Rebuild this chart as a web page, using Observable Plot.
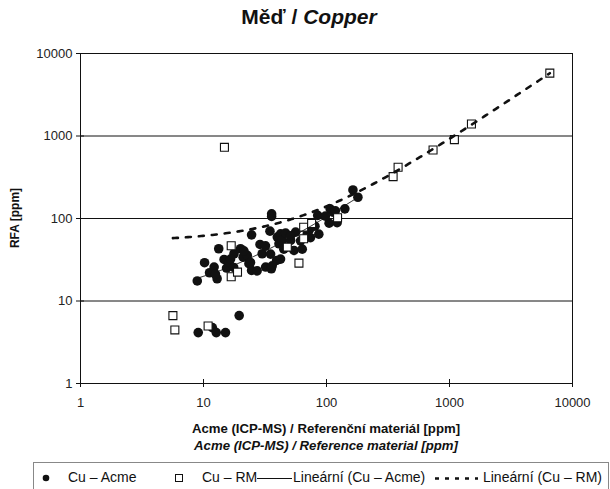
<!DOCTYPE html>
<html>
<head>
<meta charset="utf-8">
<script src="https://cdn.jsdelivr.net/npm/d3@7"></script>
<script src="https://cdn.jsdelivr.net/npm/@observablehq/plot@0.6"></script>
<style>
  html, body { margin: 0; padding: 0; background: #fff; }
  #wrap { position: relative; width: 610px; height: 489px; overflow: hidden; font-family: "Liberation Sans", Arial, sans-serif; color: #111; }
  #chart { position: absolute; left: 0; top: 0; }
  .abs { position: absolute; white-space: nowrap; }
  #title { top: 5px; left: 0; width: 618px; text-align: center; font-weight: bold; font-size: 21px; }
  #ylab { left: 15px; top: 218px; transform: translate(-50%, -50%) rotate(-90deg); font-weight: bold; font-size: 12px; }
  .xlab { left: 0; width: 652px; text-align: center; font-weight: bold; font-size: 13.2px; }
  #legend { left: 33px; top: 462px; width: 576px; height: 40px; border: 1px solid #888; box-sizing: border-box; font-size: 14px; }
  #legend .it { position: absolute; top: 6px; }
  #legend svg { position: absolute; top: 0; }
</style>
</head>
<body>
<div id="wrap">
  <div id="chart"></div>
  <div id="title" class="abs">Měď / <i>Copper</i></div>
  <div id="ylab" class="abs">RFA [ppm]</div>
  <div class="abs xlab" style="top:421px">Acme (ICP-MS) / Referenční materiál [ppm]</div>
  <div class="abs xlab" style="top:438px"><i>Acme (ICP-MS) / Reference material [ppm]</i></div>
  <div id="legend" class="abs">
    <svg width="576" height="30" style="left:0;top:0">
      <circle cx="12" cy="15" r="3.3" fill="#111"/>
      <rect x="141.5" y="11.5" width="7" height="7" fill="#fff" stroke="#111" stroke-width="1"/>
      <line x1="223" y1="15.5" x2="258" y2="15.5" stroke="#111" stroke-width="1"/>
      <line x1="401" y1="15.5" x2="444" y2="15.5" stroke="#111" stroke-width="2.5" stroke-dasharray="4,6"/>
    </svg>
    <span class="it" style="left:34px">Cu – Acme</span>
    <span class="it" style="left:168px">Cu – RM</span>
    <span class="it" style="left:259px">Lineární (Cu – Acme)</span>
    <span class="it" style="right:6px">Lineární (Cu – RM)</span>
  </div>
</div>
<script>
// ---- data ----
const acmeX = [9.06, 11.8, 12.7, 15.1, 19.5,
  8.9, 10.2, 11.2, 12.2, 12.9, 13.3, 14.7, 15.4, 16.1, 17.7, 20, 21, 22.7, 23.4, 24.6, 24.6,
  28.8, 30, 32, 35.6, 34.7, 35.8, 35.8, 39.3, 39.8, 41.1, 42.4, 43.7, 46.5, 51.1, 54.4, 56.1,
  69.8, 73.4, 80.6, 84.8, 105, 107, 114, 141, 164, 180,
  12.5, 16.6, 17.6, 21.3, 24.1, 27.3, 31.9, 35.1, 36.2, 42.3, 45, 51, 61.5, 63.5, 74.1, 86.6, 98, 118, 122];
const acmeY = [4.14, 4.76, 4.14, 4.14, 6.65,
  17.5, 29.1, 22, 25.8, 18.6, 43, 31.9, 25.1, 29.6, 37.4, 43, 34, 35.7, 28.3, 23.5, 63.4,
  48.5, 37.4, 25.8, 24.6, 70.3, 114, 106, 31, 59.5, 49.4, 65.3, 54.2, 66.5, 54.2, 41, 68.4,
  65.3, 75, 80.8, 109, 87.8, 131, 119, 131, 222, 181,
  21.2, 32.2, 25.5, 40.6, 29.3, 23.2, 46.6, 37, 26.7, 32.2, 42.5, 61.6, 53.6, 42.5, 58.7, 64.6, 107, 124, 89];
const rmX = [5.64, 5.85, 10.9, 14.8, 16.8, 16.8, 18.9, 48, 59.7, 65.2, 65.2, 75.7, 123, 348, 382, 735, 1096, 1508, 6540];
const rmY = [6.65, 4.46, 4.98, 729, 46.7, 19.7, 22.4, 45, 28.8, 56.8, 78.5, 87, 102, 322, 418, 677, 903, 1397, 5780];
const axisTicks = [1, 10, 100, 1000, 10000];
const gridValues = [10, 100, 1000];

// ---- linear trend lines (as Excel "Lineární") ----
function linreg(xs, ys) {
  const mx = d3.mean(xs), my = d3.mean(ys);
  let sxy = 0, sxx = 0;
  xs.forEach((x, i) => { sxy += (x - mx) * (ys[i] - my); sxx += (x - mx) ** 2; });
  const a = sxy / sxx;
  return {a, b: my - a * mx};
}
function trend(xs, ys) {
  const {a, b} = linreg(xs, ys);
  const lo = Math.log(d3.min(xs)), hi = Math.log(d3.max(xs));
  return d3.range(201).map(i => { const x = Math.exp(lo + (hi - lo) * i / 200); return {x, y: a * x + b}; });
}
const acmeTrend = trend(acmeX, acmeY);
const rmTrend = trend(rmX, rmY);

const acme = acmeX.map((x, i) => ({x, y: acmeY[i]}));
const rm = rmX.map((x, i) => ({x, y: rmY[i]}));

const chart = Plot.plot({
  width: 610, height: 489,
  marginLeft: 80, marginRight: 38, marginTop: 53, marginBottom: 106,
  x: {type: "log", domain: [1, 10000]},
  y: {type: "log", domain: [1, 10000]},
  style: {fontFamily: "'Liberation Sans', Arial, sans-serif", fontSize: "13px", color: "#222", background: "#fff", overflow: "visible"},
  marks: [
    Plot.ruleY(gridValues, {stroke: "#111", strokeWidth: 1}),
    Plot.frame({stroke: "#111", strokeWidth: 1}),
    Plot.axisX({ticks: axisTicks, tickSize: 8, dy: -4, tickPadding: 10, tickFormat: d => String(d), label: null, stroke: "#111"}),
    Plot.axisY({ticks: axisTicks, tickSize: 8, dx: 4, tickPadding: 4, tickFormat: d => String(d), label: null, stroke: "#111"}),
    Plot.dot(acme, {x: "x", y: "y", r: 4.8, fill: "#111", stroke: "none"}),
    Plot.dot(rm, {x: "x", y: "y", r: 4.5, symbol: "square", fill: "#fff", stroke: "#111", strokeWidth: 1.1}),
    Plot.line(acmeTrend, {x: "x", y: "y", stroke: "#111", strokeWidth: 1}),
    Plot.line(rmTrend, {x: "x", y: "y", stroke: "#111", strokeWidth: 2.6, strokeDasharray: "5,8"})
  ]
});
document.getElementById("chart").appendChild(chart);
</script>
</body>
</html>
